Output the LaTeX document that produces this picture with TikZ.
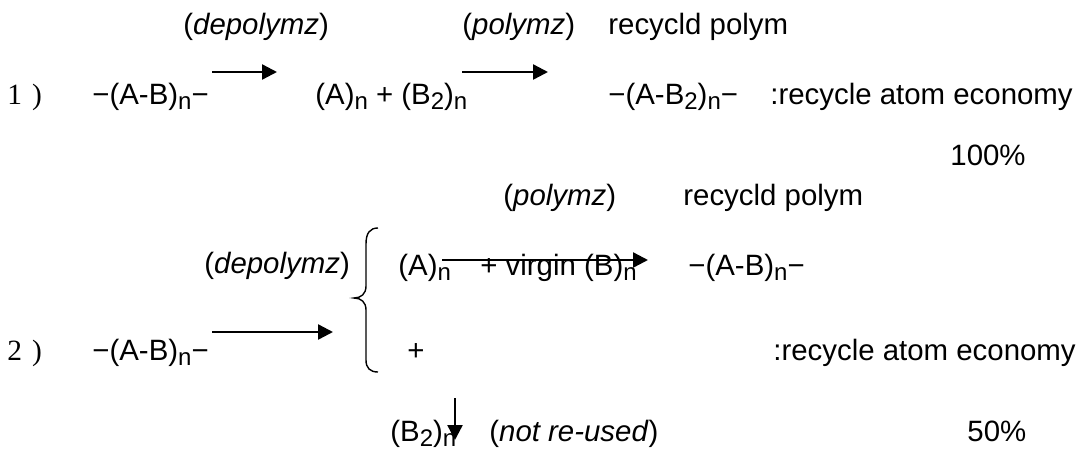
\documentclass[tikz,border=0pt]{standalone}
\usepackage{fontspec}
\setmainfont{Liberation Sans}
\newfontfamily\numfont{Liberation Serif}
\usetikzlibrary{arrows.meta}
\newcommand\dn[1]{\raisebox{-0.35ex}{\fontsize{12}{12}\selectfont #1}}

\begin{document}
\begin{tikzpicture}[x=0.5pt, y=-0.5pt, >={Triangle[length=7.5pt,width=7.5pt]}, font=\fontsize{14.7}{17}\selectfont]
			
			% ==========================================
			% 1. COLOURS AND STYLES
			% ==========================================
			\definecolor{inkcol}{RGB}{0, 0, 0}       % text and arrows
			
			\tikzset{
				txt/.style={inner sep=0pt, anchor=base west, text=inkcol},
				rxn/.style={->, line width=1.2pt, draw=inkcol},
				brace/.style={line width=0.7pt, draw=inkcol}
			}
			
			% page frame (same proportions as the reference)
			\useasboundingbox (0,0) rectangle (1087,450);
			
			% ==========================================
			% 2. ROUTE 1: FULL RECYCLE
			% ==========================================
			\node[txt] (num1) at (7,104) {\numfont 1\hspace{5pt})};
			\node[txt] (poly1) at (92,104) {−(A-B)\dn{n}−};
			\node[txt] (mono1) at (315,104) {(A)\dn{n} + (B\dn{2})\dn{n}};
			\node[txt] (prod1) at (608,104) {−(A-B\dn{2})\dn{n}−};
			\node[txt] (econ1) at (770,104) {:recycle atom economy};
			\node[txt] (pct1) at (950,165) {100\%};
			
			% labels over the arrows
			\node[txt] (depol1) at (183,34) {(\textit{depolymz})};
			\node[txt] (pol1) at (462,34) {(\textit{polymz})};
			\node[txt] (rec1) at (608,34) {recycld polym};
			
			% arrows
			\coordinate (a1s) at (212,72);
			\coordinate (a1e) at (277,72);
			\coordinate (a2s) at (462,72);
			\coordinate (a2e) at (548,72);
			\draw[rxn] (a1s) -- (a1e);
			\draw[rxn] (a2s) -- (a2e);
			
			% ==========================================
			% 3. ROUTE 2: HALF RECYCLE
			% ==========================================
			\node[txt] (num2) at (7,360) {\numfont 2\hspace{5pt})};
			\node[txt] (poly2) at (92,360) {−(A-B)\dn{n}−};
			\node[txt] (depol2) at (204,273) {(\textit{depolymz})};
			
			% curly brace round the two products
			\draw[brace] (378,228) .. controls (370,228) and (366,233) .. (366,244)
			-- (366,286) .. controls (366,294) and (361,298) .. (354,298)
			.. controls (361,298) and (366,302) .. (366,310)
			-- (366,360) .. controls (366,368) and (370,372) .. (378,372);
			
			% upper branch
			\node[txt] (monA) at (398,275) {(A)\dn{n}};
			\node[txt] (virg) at (480,275) {+ virgin (B)\dn{n}};
			\node[txt] (pol2) at (503,205) {(\textit{polymz})};
			\node[txt] (rec2) at (683,205) {recycld polym};
			\node[txt] (prod2) at (688,275) {−(A-B)\dn{n}−};
			
			% lower branch
			\node[txt] (plus2) at (407,360) {+};
			\node[txt] (monB) at (390,441) {(B\dn{2})\dn{n}};
			\node[txt] (waste) at (489,441) {(\textit{not re-used})};
			\node[txt] (econ2) at (773,360) {:recycle atom economy};
			\node[txt] (pct2) at (967,441) {50\%};
			
			% arrows
			\coordinate (a3s) at (212,332);
			\coordinate (a3e) at (333,332);
			\coordinate (a4s) at (442,260);
			\coordinate (a4e) at (648,260);
			\coordinate (a5s) at (455,398);
			\coordinate (a5e) at (455,440);
			\draw[rxn] (a3s) -- (a3e);
			\draw[rxn] (a4s) -- (a4e);
			\draw[rxn] (a5s) -- (a5e);
			
		\end{tikzpicture}
\end{document}
